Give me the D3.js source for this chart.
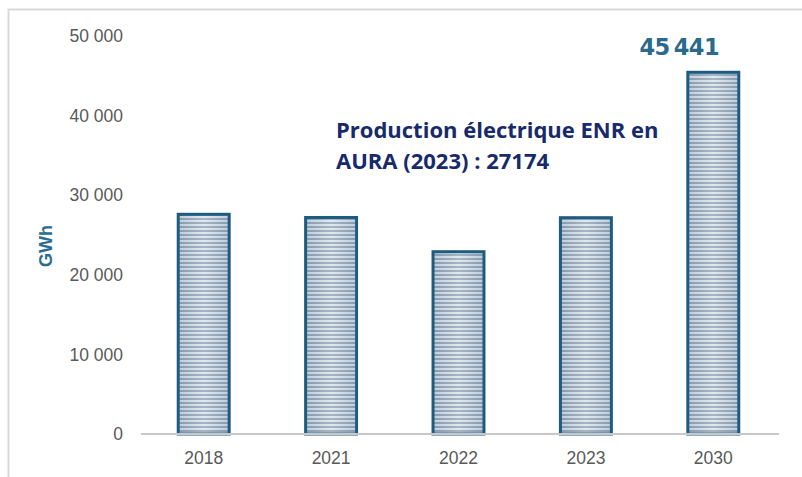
<!DOCTYPE html>
<html>
<head>
<meta charset="utf-8">
<script src="https://cdn.jsdelivr.net/npm/d3@7"></script>
<style>
  body { margin: 0; background: #fff; }
  svg { display: block; }
</style>
</head>
<body>
<svg id="chart"></svg>
<script>
// donnees
var years = ["2018", "2021", "2022", "2023", "2030"];
var production = [27600, 27200, 22900, 27174, 45441];
var yTicks = [0, 10000, 20000, 30000, 40000, 50000];

var screen = {width: 802, height: 477};
var margin = {left: 140, right: 25, top: 36, bottom: 43};

var svg = d3.select("#chart")
    .attr("width", screen.width)
    .attr("height", screen.height);

// cadre gris (haut + gauche)
svg.append("path")
    .attr("d", "M8.5,477V9.5H802")
    .attr("fill", "none")
    .attr("stroke", "#d9d9d9")
    .attr("stroke-width", 2);

var xScale = d3.scaleBand()
    .domain(years)
    .range([margin.left, screen.width - margin.right])
    .paddingInner(0.6)
    .paddingOuter(0.3);

var yScale = d3.scaleLinear()
    .domain([0, 50000])
    .range([screen.height - margin.bottom, margin.top]);

// motif rayé pour les barres
var defs = svg.append("defs");
var grad = defs.append("linearGradient")
    .attr("id", "shade")
    .attr("x1", "0").attr("x2", "1").attr("y1", "0").attr("y2", "0");
grad.append("stop").attr("offset", "0%").attr("stop-color", "#7890a8");
grad.append("stop").attr("offset", "50%").attr("stop-color", "#c8d3de");
grad.append("stop").attr("offset", "100%").attr("stop-color", "#7890a8");

var pat = defs.append("pattern")
    .attr("id", "stripes")
    .attr("patternUnits", "userSpaceOnUse")
    .attr("width", 8)
    .attr("height", 4);
pat.append("rect").attr("width", 8).attr("height", 4).attr("fill", "#f2f5f8");
pat.append("rect").attr("y", 2).attr("width", 8).attr("height", 2).attr("fill", "#8ea2b6");

var fmt = function(v) {
    return d3.format(",")(v).replace(/,/g, " ");
};

// axe Y (labels seulement)
var yAxis = d3.axisLeft(yScale)
    .tickValues(yTicks)
    .tickFormat(fmt)
    .tickSize(0)
    .tickPadding(17);

svg.append("g")
    .attr("transform", "translate(" + margin.left + ",0)")
    .call(yAxis)
    .call(function(g) { g.select(".domain").remove(); })
    .selectAll("text")
    .attr("fill", "#595959")
    .style("font-family", "Liberation Sans, Arial, sans-serif")
    .style("font-size", "17.5px");

var bars = svg.append("g")
    .selectAll("g")
    .data(production)
    .enter()
    .append("g");

bars.append("rect")
    .attr("x", function(d, i) { return xScale(years[i]); })
    .attr("y", function(d) { return yScale(d); })
    .attr("width", xScale.bandwidth())
    .attr("height", function(d) { return yScale(0) - yScale(d); })
    .attr("fill", "url(#shade)");

bars.append("rect")
    .attr("x", function(d, i) { return xScale(years[i]); })
    .attr("y", function(d) { return yScale(d); })
    .attr("width", xScale.bandwidth())
    .attr("height", function(d) { return yScale(0) - yScale(d); })
    .attr("fill", "url(#stripes)")
    .attr("fill-opacity", 0.6)
    .attr("stroke", "#1d5c80")
    .attr("stroke-width", 3);

// axe X
var xAxis = d3.axisBottom(xScale)
    .tickSize(0)
    .tickPadding(18);

var gx = svg.append("g")
    .attr("transform", "translate(0," + yScale(0) + ")")
    .call(xAxis);
gx.select(".domain")
    .attr("stroke", "#c8c8c8")
    .attr("stroke-width", 2)
    .attr("d", "M" + (margin.left + 1) + ",0H" + (screen.width - margin.right + 2));
gx.selectAll("text")
    .attr("fill", "#595959")
    .style("font-family", "Liberation Sans, Arial, sans-serif")
    .style("font-size", "17.5px");

// titre axe Y
svg.append("text")
    .attr("transform", "translate(52," + 246 + ") rotate(-90)")
    .attr("text-anchor", "middle")
    .attr("fill", "#2a6c8e")
    .style("font-family", "Liberation Sans, Arial, sans-serif")
    .style("font-weight", "bold")
    .style("font-size", "18px")
    .text("GWh");

// valeur 2030
svg.append("text")
    .attr("x", xScale("2030") + xScale.bandwidth() / 2 - 34)
    .attr("y", yScale(production[4]) - 17)
    .attr("text-anchor", "middle")
    .attr("fill", "#2a6a8c")
    .style("font-family", "DejaVu Sans, sans-serif")
    .style("font-weight", "bold")
    .style("font-size", "22.5px")
    .style("letter-spacing", "-0.5px")
    .text(fmt(production[4]).replace(" ", "\u2009"));

// annotation
var note = svg.append("text")
    .attr("fill", "#172a6b")
    .style("font-family", "Open Sans, Noto Sans, sans-serif")
    .style("font-weight", "bold")
    .style("font-size", "22px");
note.append("tspan").attr("x", 336).attr("y", 138).text("Production électrique ENR en");
note.append("tspan").attr("x", 336).attr("y", 169).text("AURA (2023) : " + production[3]);
</script>
</body>
</html>
